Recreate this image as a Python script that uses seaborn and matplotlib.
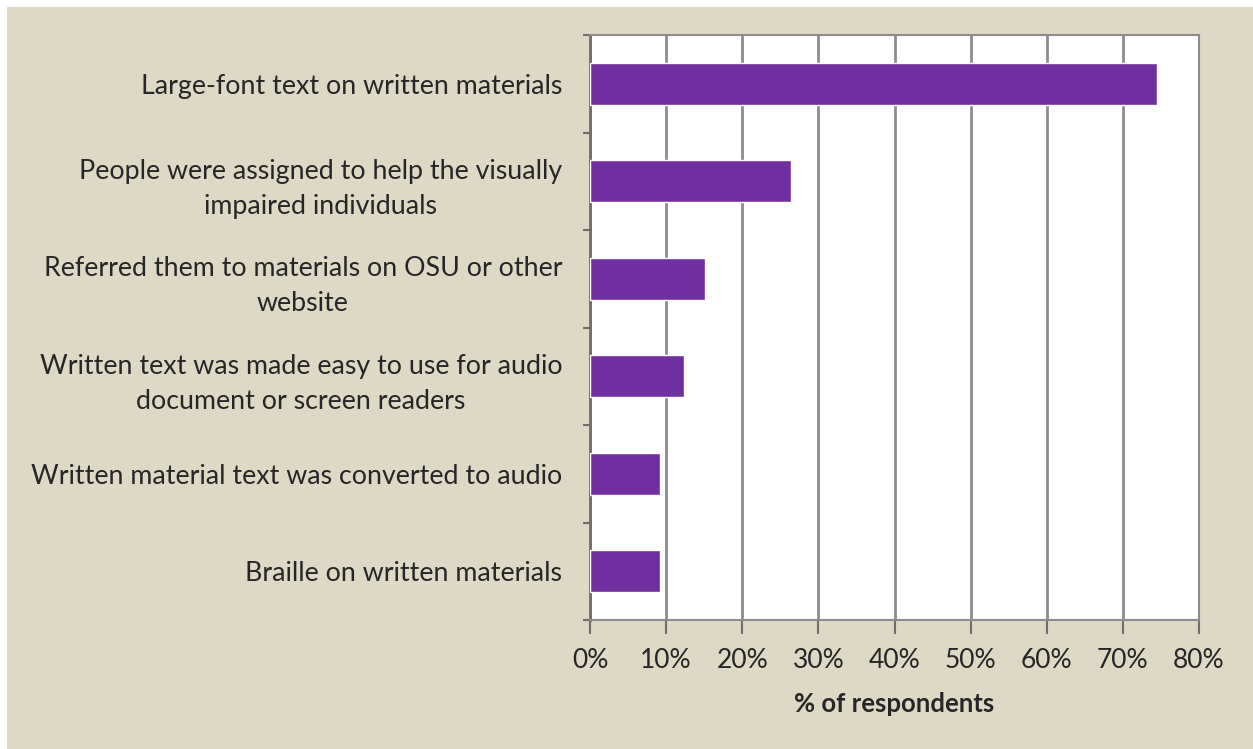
import numpy as np
import pandas as pd
import seaborn as sns
import matplotlib.pyplot as plt
from matplotlib.ticker import FixedLocator, PercentFormatter

# données
categories = [
    "Large-font text on written materials",
    "People were assigned to help the visually\nimpaired individuals",
    "Referred them to materials on OSU or other\nwebsite",
    "Written text was made easy to use for audio\ndocument or screen readers",
    "Written material text was converted to audio",
    "Braille on written materials",
]
values = [74.5, 26.4, 15.1, 12.3, 9.2, 9.2]
x_ticks = [0, 10, 20, 30, 40, 50, 60, 70, 80]

df = pd.DataFrame({"Categorie": categories, "Pourcentage": values})

bg = "#DDD9C4"
purple = "#7030A0"
txt = "#262626"

sns.set_style("white")
plt.rcParams['font.family'] = ['Lato', 'DejaVu Sans']

fig = plt.figure(figsize=(12.53, 7.49), dpi=100)
fig.patch.set_facecolor("white")
fig.add_artist(plt.Rectangle((7 / 1253, 0), 1, 1 - 7 / 749, transform=fig.transFigure,
                             facecolor=bg, edgecolor="none", zorder=-10))

ax = fig.add_axes([590 / 1253, 1 - 620 / 749, 609 / 1253, 585 / 749])
sns.barplot(data=df, x="Pourcentage", y="Categorie", color=purple, width=0.43,
            saturation=1, ax=ax, zorder=3)

ax.set_xlim(0, 80)
ax.set_ylim(len(categories) - 0.5, -0.5)
ax.set_facecolor("white")

# grille verticale
ax.xaxis.set_major_locator(FixedLocator(x_ticks))
ax.xaxis.set_major_formatter(PercentFormatter(decimals=0))
ax.grid(axis="x", color="#8C8C8C", linewidth=2, zorder=0)
ax.set_axisbelow(True)

for side in ["top", "right", "bottom"]:
    ax.spines[side].set_color("#8C8C8C")
    ax.spines[side].set_linewidth(1.5)
ax.spines["left"].set_color("#6E6E6E")
ax.spines["left"].set_linewidth(2)

# ticks de l'axe y aux limites des catégories (style Excel)
ax.yaxis.set_minor_locator(FixedLocator(np.arange(-0.5, len(categories), 1)))
ax.tick_params(axis="y", which="minor", length=5, width=1.5, color="#6E6E6E", left=True)
ax.tick_params(axis="y", which="major", length=0, pad=20, labelsize=19.3, labelcolor=txt)
ax.tick_params(axis="x", which="major", length=10, width=1.5, color="#6E6E6E", bottom=True,
               pad=10, labelsize=19, labelcolor=txt)
for lbl in ax.get_yticklabels():
    lbl.set_multialignment("center")
    lbl.set_linespacing(1.5)

ax.set_ylabel("")
ax.set_xlabel("% of respondents", fontsize=18.5, fontweight="bold", color=txt, labelpad=14)

fig.savefig("out.png", dpi=100, facecolor=fig.get_facecolor())
